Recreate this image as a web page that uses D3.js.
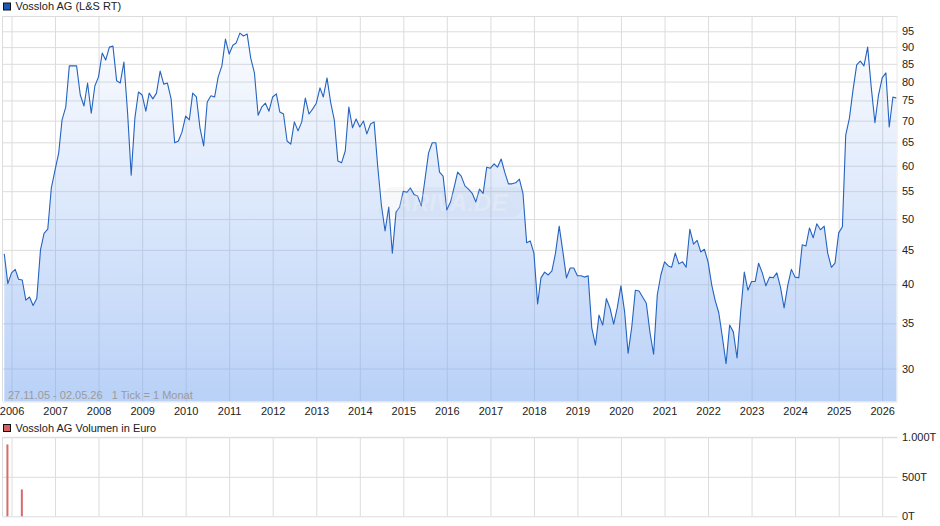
<!DOCTYPE html>
<html><head><meta charset="utf-8">
<script src="https://cdn.jsdelivr.net/npm/d3@7"></script>
<style>
html,body{margin:0;padding:0;background:#fff}
svg{display:block}
text{font-family:"Liberation Sans",Arial,sans-serif;font-size:11px;fill:#222}
</style></head><body>
<svg id="c" width="940" height="526"></svg>
<script>
const seriesName = "Vossloh AG (L&S RT)";
const volumeName = "Vossloh AG Volumen in Euro";
const infoText = "27.11.05 - 02.05.26   1 Tick = 1 Monat";
const startMonth = "2005-11-01";
const prices = [
44.4,40.1,41.6,42.1,40.7,40.6,37.9,38.3,37.2,38.1,45.0,47.6,48.3,55.6,59.1,62.7,70.2,73.3,84.4,84.4,
84.4,76.4,73.6,79.6,71.8,78.8,81.3,88.2,86.1,90.0,90.3,80.2,79.6,85.5,71.8,58.1,70.6,77.2,76.4,72.3,
76.9,75.4,76.9,82.9,79.3,79.6,75.4,64.9,65.3,67.3,71.1,70.2,76.9,75.9,68.3,64.2,74.6,76.2,75.9,81.3,
84.4,92.5,87.9,90.6,91.3,94.4,93.5,94.1,86.7,82.4,71.3,73.3,74.3,72.3,75.9,76.7,72.1,71.6,65.3,64.6,
69.7,67.6,69.7,75.6,71.6,72.8,74.3,78.3,75.9,81.0,74.6,70.2,61.0,60.6,63.1,73.3,68.3,70.4,68.5,69.9,
66.9,69.2,69.7,59.7,52.5,48.0,52.1,44.5,51.2,52.1,55.0,54.8,55.6,54.4,54.1,52.3,57.1,62.7,64.9,64.9,
58.7,57.9,51.6,53.0,55.6,58.7,57.9,56.0,55.4,54.6,53.0,55.4,54.6,59.7,59.5,60.4,59.7,61.4,58.7,56.4,
56.4,56.6,57.3,54.6,46.1,46.4,44.5,37.4,40.9,41.7,41.3,41.9,44.5,48.8,44.7,40.9,42.3,42.3,41.2,41.2,
41.0,41.2,34.5,32.5,36.0,34.8,38.1,36.9,34.9,36.9,39.8,36.4,31.6,34.6,39.2,39.1,38.3,37.5,33.9,31.5,
38.6,41.3,43.2,42.6,42.4,44.5,42.9,43.2,42.4,48.3,45.9,46.5,44.7,45.1,43.2,39.9,37.9,36.3,33.4,30.5,
34.8,34.0,31.1,36.3,41.7,39.2,40.4,40.4,43.0,41.6,39.8,41.0,40.9,41.6,39.6,36.9,39.9,42.1,41.0,40.9,
45.8,45.6,48.5,46.9,49.2,48.2,48.8,44.5,42.4,43.0,47.7,48.7,66.6,70.6,77.7,84.7,85.8,84.4,90.0,78.5,
69.5,76.4,81.0,82.4,68.5,75.9,75.6];
const priceTicks = [95,90,85,80,75,70,65,60,55,50,45,40,35,30];
const yearTicks = [2006,2007,2008,2009,2010,2011,2012,2013,2014,2015,2016,2017,2018,2019,2020,2021,2022,2023,2024,2025,2026];
const volumeMonths = ["2005-12-01","2006-04-01"];
const volumeValues = [910,340];
const volumeTicks = [0,500,1000];
const volumeTickLabels = ["0T","500T","1.000T"];

const svg = d3.select("#c");
const L = 2.5, R = 897.5, T = 16.5, B = 401.5, VT = 437.3, VB = 516.3;
const parse = d3.utcParse("%Y-%m-%d");
const start = parse(startMonth);
const dates = prices.map((_, i) => d3.utcMonth.offset(start, i));
const x = d3.scaleUtc().domain([start, dates[dates.length - 1]]).range([4.25, 896.5]);
const y = d3.scaleLog().domain([95, 30]).range([31.3, 368.5]);
const yv = d3.scaleLinear().domain([0, 1000]).range([VB, VT]);
const yearDates = yearTicks.map(v => new Date(Date.UTC(v, 0, 1)));

const defs = svg.append("defs");
const g = defs.append("linearGradient").attr("id","af").attr("x1",0).attr("x2",0).attr("y1",0).attr("y2",1)
  .attr("gradientUnits","objectBoundingBox");
g.append("stop").attr("offset",0).attr("stop-color","#7ba8f1").attr("stop-opacity",0.03);
g.append("stop").attr("offset",1).attr("stop-color","#7ba8f1").attr("stop-opacity",0.53);

function style(sel){
  sel.select(".domain").remove();
  sel.selectAll(".tick line").attr("stroke","#dcdcdc").attr("stroke-width",1);
}
// main grid
const gx = svg.append("g").attr("transform",`translate(0,${B})`)
  .call(d3.axisBottom(x).tickValues(yearDates).tickFormat(d3.utcFormat("%Y")).tickSizeInner(-(B-T)).tickSizeOuter(0).tickPadding(4));
style(gx);
gx.selectAll(".tick text").attr("y",6).attr("dy","0.71em");
const gy = svg.append("g").attr("transform",`translate(${R},0)`)
  .call(d3.axisRight(y).tickValues(priceTicks).tickFormat(d3.format("d")).tickSizeInner(-(R-L)).tickSizeOuter(0).tickPadding(4.5));
style(gy);
svg.append("path").attr("d",`M${L},${B}V${T}H${R}`).attr("fill","none").attr("stroke","#dcdcdc");

// area + line
const area = d3.area().x((d,i)=>x(dates[i])).y0(B).y1(d=>y(d));
const line = d3.line().x((d,i)=>x(dates[i])).y(d=>y(d));
svg.append("path").datum(prices).attr("d",area).attr("fill","url(#af)");
svg.append("path").datum(prices).attr("d",line).attr("fill","none").attr("stroke","#2463c0").attr("stroke-width",1.1).attr("stroke-linejoin","round");
svg.append("line").attr("x1",R-0.5).attr("x2",R-0.5).attr("y1",T).attr("y2",B).attr("stroke","#e8e8e8");
svg.append("line").attr("x1",L).attr("x2",R).attr("y1",B+0.5).attr("y2",B+0.5).attr("stroke","#e6e6e6");

// watermark
const wm = svg.append("g").attr("transform","translate(451,202)");
wm.append("rect").attr("x",-70).attr("y",-15).attr("width",142).attr("height",30).attr("rx",8)
  .attr("transform","skewX(-12)").attr("fill","#8a9ab8").attr("fill-opacity",0.07);
wm.append("text").attr("text-anchor","middle").attr("y",8.5)
  .style("font-size","24px").style("font-weight","bold").style("font-style","italic").style("fill","#fff").style("fill-opacity",0.22)
  .text("ARIVA.DE");

// info
svg.append("text").attr("x",8).attr("y",398.5).style("fill","#9a9a9a").style("white-space","pre").text(infoText);

// legends
function legend(yy, col, txt){
  svg.append("rect").attr("x",3.5).attr("y",yy-3.5).attr("width",7).attr("height",7).attr("fill",col).attr("stroke","#111").attr("stroke-width",1);
  svg.append("text").attr("x",15.5).attr("y",yy+3.8).text(txt);
}
legend(6.5,"#1c58b8",seriesName);
legend(428,"#d65f5f",volumeName);

// volume panel
const vx = svg.append("g").attr("transform",`translate(0,${VB})`)
  .call(d3.axisBottom(x).tickValues(yearDates).tickFormat("").tickSizeInner(-(VB-VT)).tickSizeOuter(0));
style(vx);
const vy = svg.append("g").attr("transform",`translate(${R},0)`)
  .call(d3.axisRight(yv).tickValues(volumeTicks).tickFormat((d,i)=>volumeTickLabels[i]).tickSizeInner(-(R-L)).tickSizeOuter(0).tickPadding(4.5));
style(vy);
svg.append("path").attr("d",`M${L},${VB}V${VT}H${R}`).attr("fill","none").attr("stroke","#dcdcdc");
svg.selectAll("rect.v").data(volumeValues).enter().append("rect").attr("class","v")
  .attr("x",(d,i)=>x(parse(volumeMonths[i]))-1.4).attr("width",2)
  .attr("y",d=>yv(d)).attr("height",d=>VB-yv(d)).attr("fill","#d96a6a");
</script>
</body></html>
